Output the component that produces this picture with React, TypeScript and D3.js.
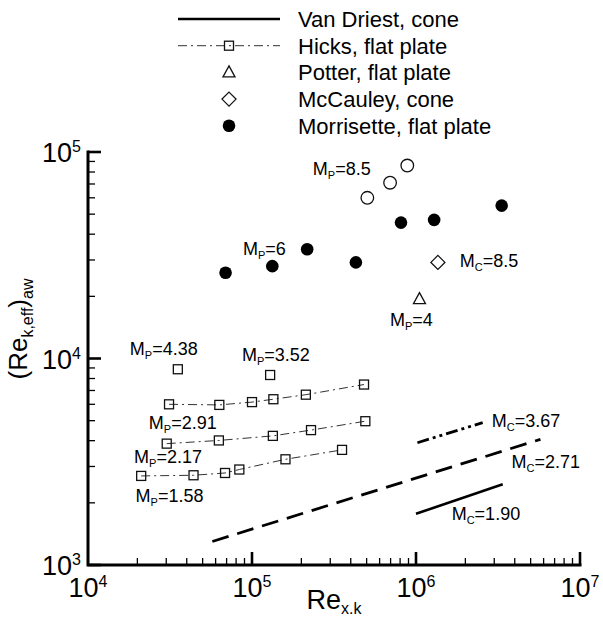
import React from 'react';
import * as d3 from 'd3';

const W = 603;
const H = 620;

// ---------- data ----------
const morrisetteX = [6.9e4, 1.33e5, 2.17e5, 4.3e5, 8.1e5, 1.29e6, 3.33e6];
const morrisetteY = [2.6e4, 2.8e4, 3.38e4, 2.92e4, 4.55e4, 4.69e4, 5.5e4];
const morrisetteOpenX = [5.05e5, 6.95e5, 8.85e5];
const morrisetteOpenY = [6.0e4, 7.1e4, 8.6e4];
const potterX = [1.05e6];
const potterY = [1.94e4];
const mccauleyX = [1.36e6];
const mccauleyY = [2.92e4];

const hicksX291 = [3.12e4, 6.32e4, 1.0e5, 1.35e5, 2.13e5, 4.82e5];
const hicksY291 = [6.0e3, 5.96e3, 6.15e3, 6.35e3, 6.68e3, 7.48e3];
const hicksX217 = [3.02e4, 6.28e4, 1.34e5, 2.29e5, 4.91e5];
const hicksY217 = [3.87e3, 4.01e3, 4.22e3, 4.5e3, 4.97e3];
const hicksX158 = [2.11e4, 4.4e4, 6.85e4, 8.37e4, 1.6e5, 3.54e5];
const hicksY158 = [2.7e3, 2.72e3, 2.79e3, 2.9e3, 3.25e3, 3.61e3];
const hicksSingleX = [3.53e4, 1.29e5];
const hicksSingleY = [8.87e3, 8.32e3];

const vd190X = [1.0e6, 3.38e6];
const vd190Y = [1.77e3, 2.46e3];
const vd271X = [5.73e4, 5.74e6];
const vd271Y = [1.3e3, 4.06e3];
const vd367X = [1.02e6, 2.55e6];
const vd367Y = [3.91e3, 4.89e3];

const legendLabels = [
  'Van Driest, cone',
  'Hicks, flat plate',
  'Potter, flat plate',
  'McCauley, cone',
  'Morrisette, flat plate',
];

// annotations anchored in data space
const annMain = ['M', 'M', 'M', 'M', 'M', 'M', 'M', 'M', 'M', 'M', 'M', 'M'];
const annSub = ['P', 'P', 'C', 'P', 'P', 'P', 'P', 'P', 'P', 'C', 'C', 'C'];
const annRest = ['=8.5', '=6', '=8.5', '=4', '=4.38', '=3.52', '=2.91', '=2.17', '=1.58', '=3.67', '=2.71', '=1.90'];
const annX = [2.35e5, 8.81e4, 1.85e6, 6.94e5, 1.8e4, 8.69e4, 2.35e4, 1.91e4, 1.95e4, 2.9e6, 3.82e6, 1.65e6];
const annY = [7.74e4, 3.17e4, 2.77e4, 1.44e4, 1.04e4, 9.76e3, 4.56e3, 3.12e3, 2.02e3, 4.66e3, 2.95e3, 1.65e3];

const xMajor = [1e4, 1e5, 1e6, 1e7];
const yMajor = [1e3, 1e4, 1e5];

const FONT = "'Liberation Sans', Arial, Helvetica, sans-serif";

export default function App() {
  const x = d3.scaleLog().domain([1e4, 1e7]).range([88, 580]);
  const y = d3.scaleLog().domain([1e3, 1e5]).range([565, 152]);

  const line = d3
    .line<[number, number]>()
    .x((d) => x(d[0]))
    .y((d) => y(d[1]));
  const zip = (a: number[], b: number[]) => a.map((v, i) => [v, b[i]] as [number, number]);

  const xTicks = x.ticks().filter((t) => t > 1e4 && t <= 1e7);
  const yTicks = y.ticks().filter((t) => t >= 1e3 && t <= 1e5);
  const isMajor = (t: number) => Math.abs(Math.log10(t) - Math.round(Math.log10(t))) < 1e-9;

  const hicksSeries = [
    zip(hicksX291, hicksY291),
    zip(hicksX217, hicksY217),
    zip(hicksX158, hicksY158),
  ];

  const sq = 9;
  const square = (cx: number, cy: number, key: string, w = sq) => (
    <rect key={key} x={cx - w / 2} y={cy - w / 2} width={w} height={w} fill="none" stroke="#111" strokeWidth={1.3} />
  );
  const triangle = (cx: number, cy: number, key: string) => (
    <path
      key={key}
      d={`M${cx},${cy - 6.5} L${cx + 6},${cy + 4.5} L${cx - 6},${cy + 4.5} Z`}
      fill="none"
      stroke="#111"
      strokeWidth={1.3}
    />
  );
  const diamond = (cx: number, cy: number, key: string) => (
    <path
      key={key}
      d={`M${cx},${cy - 7} L${cx + 7},${cy} L${cx},${cy + 7} L${cx - 7},${cy} Z`}
      fill="none"
      stroke="#111"
      strokeWidth={1.3}
    />
  );

  const legendY0 = 19;
  const legendDy = 26.7;

  return (
    <svg
      width={W}
      height={H}
      style={{ position: 'absolute', left: 0, top: 0, background: '#fff' }}
      fontFamily={FONT}
    >
      <rect x={0} y={0} width={W} height={H} fill="#fff" />

      {/* Legend */}
      <g>
        {legendLabels.map((lab, i) => (
          <text key={lab} x={298} y={legendY0 + i * legendDy + 7.8} fontSize={22} fill="#000">
            {lab}
          </text>
        ))}
        <line x1={178} x2={280} y1={legendY0} y2={legendY0} stroke="#000" strokeWidth={2.5} />
        <line
          x1={178}
          x2={280}
          y1={legendY0 + legendDy}
          y2={legendY0 + legendDy}
          stroke="#333"
          strokeWidth={1}
          strokeDasharray="9,4,2,4"
        />
        {square(229, legendY0 + legendDy, 'lsq')}
        {triangle(229, legendY0 + 2 * legendDy, 'ltri')}
        {diamond(229, legendY0 + 3 * legendDy, 'ldia')}
        <circle cx={229} cy={legendY0 + 4 * legendDy} r={6.3} fill="#000" />
      </g>

      {/* Van Driest lines */}
      <path d={line(zip(vd190X, vd190Y)) || ''} stroke="#000" strokeWidth={2.6} fill="none" />
      <path
        d={line(zip(vd271X, vd271Y)) || ''}
        stroke="#000"
        strokeWidth={2.8}
        fill="none"
        strokeDasharray="17,9"
      />
      <path
        d={line(zip(vd367X, vd367Y)) || ''}
        stroke="#000"
        strokeWidth={2.8}
        fill="none"
        strokeDasharray="12,4,3,4,3,4"
      />

      {/* Hicks */}
      {hicksSeries.map((s, i) => (
        <g key={'h' + i}>
          <path d={line(s) || ''} stroke="#333" strokeWidth={1} fill="none" strokeDasharray="9,4,2,4" />
          {s.map((d, j) => square(x(d[0]), y(d[1]), `hs${i}-${j}`))}
        </g>
      ))}
      {hicksSingleX.map((v, i) => square(x(v), y(hicksSingleY[i]), 'hsingle' + i))}

      {/* Potter */}
      {potterX.map((v, i) => triangle(x(v), y(potterY[i]), 'pt' + i))}
      {/* McCauley */}
      {mccauleyX.map((v, i) => diamond(x(v), y(mccauleyY[i]), 'mc' + i))}
      {/* Morrisette */}
      {morrisetteX.map((v, i) => (
        <circle key={'mf' + i} cx={x(v)} cy={y(morrisetteY[i])} r={6.3} fill="#000" />
      ))}
      {morrisetteOpenX.map((v, i) => (
        <circle
          key={'mo' + i}
          cx={x(v)}
          cy={y(morrisetteOpenY[i])}
          r={6.3}
          fill="#fff"
          stroke="#111"
          strokeWidth={1.3}
        />
      ))}

      {/* Annotations */}
      {annMain.map((m, i) => (
        <text key={'ann' + i} x={x(annX[i])} y={y(annY[i])} fontSize={18} fill="#000">
          <tspan>{m}</tspan>
          <tspan dy={4} fontSize={11}>
            {annSub[i]}
          </tspan>
          <tspan dy={-4}>{annRest[i]}</tspan>
        </text>
      ))}

      {/* Axes */}
      <g stroke="#000">
        {xTicks.map((t) => (
          <line
            key={'xt' + t}
            x1={x(t)}
            x2={x(t)}
            y1={565}
            y2={isMajor(t) ? 552 : 558}
            strokeWidth={isMajor(t) ? 2.6 : 1.3}
          />
        ))}
        {yTicks.map((t) => (
          <line
            key={'yt' + t}
            x1={88}
            x2={isMajor(t) ? 101 : 95}
            y1={y(t)}
            y2={y(t)}
            strokeWidth={isMajor(t) ? 2.6 : 1.3}
          />
        ))}
        <path d={`M88,152 L88,565 L580,565`} fill="none" strokeWidth={3} strokeLinecap="square" />
      </g>

      {/* Tick labels */}
      {xMajor.map((t) => (
        <text key={'xl' + t} x={x(t)} y={597} fontSize={27} textAnchor="middle" fill="#000">
          <tspan>10</tspan>
          <tspan dy={-10} fontSize={16}>
            {Math.round(Math.log10(t))}
          </tspan>
        </text>
      ))}
      {yMajor.map((t) => (
        <text key={'yl' + t} x={81} y={y(t) + 10} fontSize={27} textAnchor="end" fill="#000">
          <tspan>10</tspan>
          <tspan dy={-10} fontSize={16}>
            {Math.round(Math.log10(t))}
          </tspan>
        </text>
      ))}

      {/* Axis titles */}
      <text x={334} y={609} fontSize={27} textAnchor="middle" fill="#000">
        <tspan>Re</tspan>
        <tspan dy={5} fontSize={16}>
          x.k
        </tspan>
      </text>
      <text transform="translate(27,329) rotate(-90)" fontSize={26} textAnchor="middle" fill="#000">
        <tspan>(Re</tspan>
        <tspan dy={6} fontSize={16}>
          k,eff
        </tspan>
        <tspan dy={-6}>)</tspan>
        <tspan dy={6} fontSize={16}>
          aw
        </tspan>
      </text>
    </svg>
  );
}
